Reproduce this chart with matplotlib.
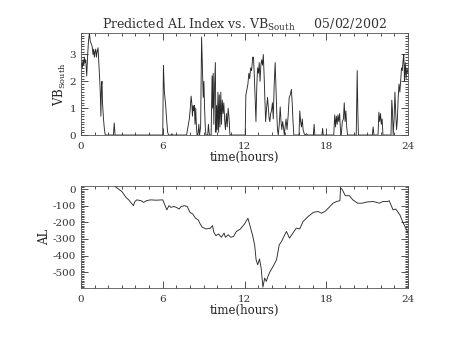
import numpy as np
import matplotlib
matplotlib.use("Agg")
import matplotlib.pyplot as plt
from matplotlib.ticker import MultipleLocator

plt.rcParams['font.family'] = ['DejaVu Serif']
plt.rcParams['mathtext.default'] = 'regular'
plt.rcParams['axes.unicode_minus'] = False

# VB south (hours, value)
vb_t = [0.00, 0.05, 0.10, 0.15, 0.20, 0.25, 0.30, 0.35, 0.42, 0.48, 0.55, 0.62, 0.68, 0.75,
        0.82, 0.88, 0.93, 0.98, 1.03, 1.08, 1.13, 1.18, 1.25, 1.32, 1.38, 1.42, 1.46, 1.50,
        1.54, 1.58, 1.65, 1.72, 1.78, 2.38, 2.44, 2.50,
        6.00, 6.05, 6.12, 6.20, 6.28, 6.36, 6.42, 6.62, 6.67, 6.72,
        7.75, 7.85, 7.95, 8.02, 8.08, 8.13, 8.18, 8.22, 8.27, 8.32, 8.37, 8.42, 8.47, 8.52,
        8.58, 8.65, 8.70, 8.78, 8.85, 8.92, 8.97, 9.02, 9.07, 9.12, 9.17, 9.30, 9.35, 9.42,
        9.55, 9.62, 9.66, 9.70, 9.75, 9.80, 9.86, 9.90, 9.95, 10.00, 10.05, 10.10, 10.15,
        10.20, 10.26, 10.31, 10.37, 10.43, 10.48, 10.55, 10.60, 10.67, 10.73, 10.80, 10.87,
        10.93,
        12.05, 12.10, 12.18, 12.25, 12.32, 12.38, 12.45, 12.52, 12.60, 12.66, 12.72, 12.78,
        12.84, 12.90, 12.96, 13.02, 13.08, 13.14, 13.20, 13.26, 13.32, 13.38, 13.44, 13.50,
        13.55, 13.62, 13.69, 13.75, 13.81, 13.86, 13.92, 13.98, 14.05, 14.11, 14.18, 14.25,
        14.31, 14.37, 14.42, 14.48, 14.55, 14.62, 14.68, 14.74, 14.80, 14.86, 14.92, 14.98,
        15.05, 15.12, 15.20, 15.28, 15.36, 15.44, 15.50, 15.56, 15.62,
        16.00, 16.06, 16.12, 16.18, 16.24, 16.30, 16.38, 16.46, 16.55, 16.62,
        17.05, 17.11, 17.16, 17.68, 17.73, 17.78,
        18.55, 18.62, 18.68, 18.74, 18.80, 18.86, 18.92, 18.98, 19.04, 19.10, 19.18, 19.26,
        19.32, 19.38, 19.44, 19.50, 19.56,
        20.20, 20.27, 20.32, 20.36, 21.38, 21.44, 21.50,
        21.80, 21.86, 21.92, 21.98, 22.04, 22.10, 22.16,
        22.75, 22.81, 22.86, 22.91, 22.98, 23.04, 23.10, 23.16, 23.22, 23.28, 23.34, 23.40,
        23.46, 23.52, 23.58, 23.64, 23.69, 23.74, 23.80, 23.86, 23.92, 24.00]
vb_v = [2.6, 2.7, 2.5, 2.8, 2.6, 2.9, 2.7, 2.8, 2.2, 2.9, 3.5, 3.8, 3.5, 3.4,
        3.3, 3.0, 3.2, 2.9, 3.1, 3.2, 2.9, 3.1, 3.25, 2.6, 2.0, 1.5, 0.7, 1.8,
        2.0, 1.2, 0.6, 0.2, 0.0, 0.0, 0.45, 0.0,
        0.0, 2.6, 1.6, 1.2, 0.6, 0.1, 0.0, 0.0, 0.05, 0.0,
        0.0, 0.3, 0.6, 1.0, 1.45, 1.2, 0.7, 1.1, 0.9, 1.1, 0.4, 1.0, 0.3, 0.0,
        0.0, 0.4, 0.0, 0.3, 3.65, 2.4, 1.4, 2.0, 1.0, 0.3, 0.0, 0.0, 0.4, 0.0,
        0.0, 2.2, 1.0, 2.3, 0.4, 1.8, 2.7, 0.1, 1.1, 0.2, 1.6, 0.1, 1.5,
        0.3, 1.6, 0.4, 1.3, 0.8, 1.2, 0.5, 0.2, 0.8, 0.3, 1.0, 0.6,
        0.0,
        0.0, 1.5, 1.7, 1.9, 2.3, 2.1, 2.5, 2.4, 2.9, 2.9, 2.2, 1.4,
        0.5, 1.8, 2.5, 2.3, 2.7, 2.0, 2.6, 2.8, 2.6, 3.0, 2.2, 1.2,
        0.5, 1.0, 1.4, 1.0, 0.6, 0.5, 0.8, 0.9, 1.2, 0.6, 1.9, 2.7,
        1.7, 0.8, 0.2, 0.0, 0.4, 1.05, 0.5, 0.2, 0.5, 0.3, 0.0, 0.3,
        0.6, 0.2, 0.7, 1.4, 1.5, 1.7, 1.2, 0.5, 0.0,
        0.0, 0.9, 0.5, 0.3, 0.6, 0.2, 0.05, 0.0, 0.05, 0.0,
        0.0, 0.4, 0.0, 0.0, 0.25, 0.0,
        0.0, 0.75, 0.3, 0.7, 0.4, 0.75, 0.5, 0.8, 0.2, 0.0, 0.5, 0.6,
        1.2, 0.5, 0.9, 0.3, 0.0,
        0.0, 2.4, 0.8, 0.0, 0.0, 0.3, 0.0,
        0.0, 0.85, 0.5, 0.8, 0.4, 0.6, 0.0,
        0.0, 1.3, 0.9, 0.0, 0.6, 1.6, 0.8, 0.2, 0.6, 1.4, 1.9, 1.6,
        2.0, 2.5, 2.4, 2.8, 3.0, 2.0, 2.7, 2.1, 2.5, 2.3]

# predicted AL index (hours, nT)
al_t = [2.50, 2.75, 3.00, 3.30, 3.50, 3.65, 3.85, 3.95, 4.10, 4.40, 4.60, 4.80, 5.10, 5.50,
        6.00, 6.15, 6.30, 6.45, 6.60, 6.80, 7.00, 7.20, 7.35, 7.60, 7.80, 8.00, 8.20, 8.40,
        8.60, 8.75, 8.90, 9.20, 9.50, 9.65, 9.75, 9.90, 10.10, 10.30, 10.50, 10.60, 10.80,
        11.00, 11.20, 11.40, 11.70, 12.00, 12.25, 12.40, 12.60, 12.75, 12.85, 12.97, 13.10,
        13.22, 13.35, 13.48, 13.60, 13.72, 13.85, 14.10, 14.35, 14.55, 14.72, 14.95, 15.08,
        15.30, 15.55, 15.80, 16.05, 16.30, 16.67, 17.05, 17.40, 17.65, 17.90, 18.15, 18.50,
        18.75, 19.00, 19.05, 19.15, 19.40, 19.70, 19.95, 20.30, 20.65, 20.95, 21.45, 21.90,
        22.15, 22.50, 22.62, 22.90, 23.10, 23.40, 23.65, 23.90, 24.00]
al_v = [15, 0, -15, -50, -65, -80, -100, -75, -65, -70, -80, -70, -65, -67,
        -65, -95, -125, -100, -110, -105, -110, -120, -105, -100, -105, -140, -150, -175,
        -185, -210, -230, -240, -235, -220, -260, -280, -270, -290, -265, -290, -275,
        -290, -285, -255, -240, -210, -175, -220, -280, -340, -425, -455, -420,
        -475, -590, -535, -555, -525, -500, -465, -425, -335, -315, -275, -255,
        -295, -265, -235, -240, -195, -165, -140, -135, -145, -135, -115, -85,
        -75, -70, 5, 0, -40, -40, -65, -85, -85, -78, -75, -85,
        -75, -75, -70, -125, -120, -155, -205, -245, -265]

hour_ticks = [0, 6, 12, 18, 24]

fig = plt.figure(figsize=(4.53, 3.40), dpi=100)
ax1 = fig.add_axes([0.1788, 0.6029, 0.7219, 0.300])
ax2 = fig.add_axes([0.1788, 0.1538, 0.7219, 0.299])

for ax in (ax1, ax2):
    ax.set_xlim(0, 24)
    ax.set_xticks(hour_ticks)
    ax.xaxis.set_minor_locator(MultipleLocator(1))
    ax.tick_params(which='both', direction='in', top=True, right=True,
                   labelsize=7.5, width=0.6, colors='#333333')
    ax.tick_params(which='major', length=5)
    ax.tick_params(which='minor', length=2.5)
    ax.tick_params(axis='x', pad=5)
    for s in ax.spines.values():
        s.set_linewidth(0.6)
        s.set_color('#555555')
    ax.set_xlabel('time(hours)', fontsize=8.5, labelpad=0, color='#222222')

ax1.plot(vb_t, vb_v, color='#2a2a2a', lw=0.65)
ax1.set_ylim(0, 3.8)
ax1.set_yticks([0, 1, 2, 3])
ax1.yaxis.set_minor_locator(MultipleLocator(0.1))
ax1.set_ylabel('$VB_{South}$', fontsize=8.5, labelpad=1, color='#222222')
ax1.set_title('Predicted AL Index vs. $VB_{South}$     05/02/2002',
              fontsize=9, color='#333333', pad=3)

ax2.plot(al_t, al_v, color='#2a2a2a', lw=0.65)
ax2.set_ylim(-593, 18)
ax2.set_yticks([0, -100, -200, -300, -400, -500])
ax2.yaxis.set_minor_locator(MultipleLocator(10))
ax2.set_ylabel('AL', fontsize=8.5, labelpad=1, color='#222222')

fig.savefig('out.png', dpi=100)
